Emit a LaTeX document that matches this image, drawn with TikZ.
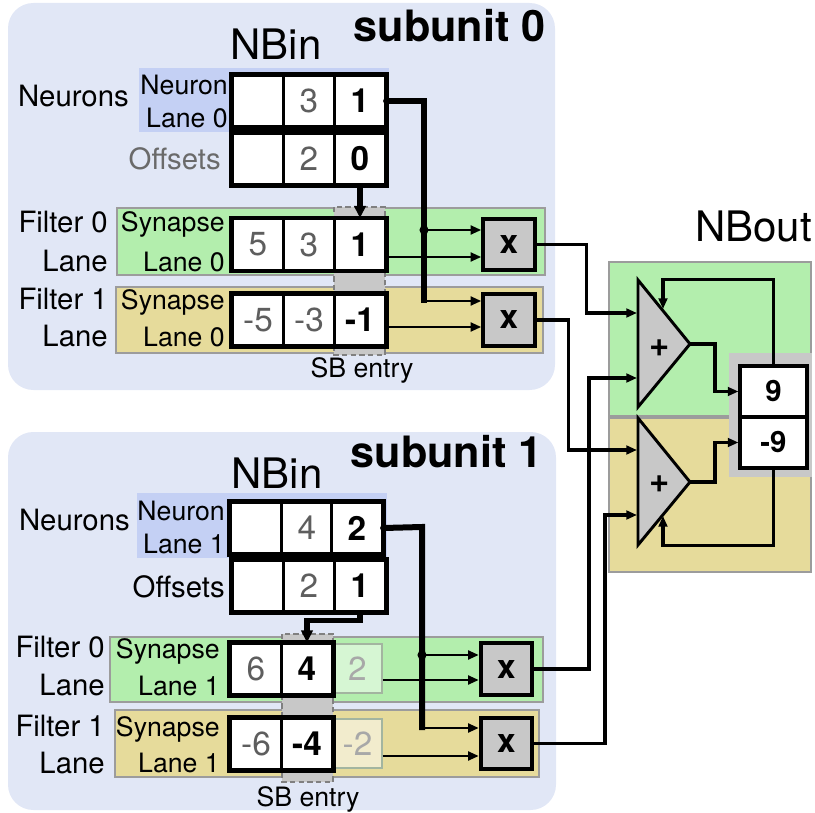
\documentclass[tikz,border=0pt]{standalone}
\usepackage{fontspec}
\setmainfont{TeX Gyre Heros}
\usetikzlibrary{arrows.meta,calc}

\definecolor{panelbg}{HTML}{E1E7F6}
\definecolor{lanebg}{HTML}{C4D0F4}
\definecolor{greenband}{HTML}{B3EEAD}
\definecolor{tanband}{HTML}{E6DB9B}
\definecolor{bandline}{HTML}{9C9C9C}
\definecolor{unitgray}{HTML}{C8C8C8}
\definecolor{sbline}{HTML}{808080}
\definecolor{numgray}{HTML}{5E5E5E}
\definecolor{labelgray}{HTML}{6A6A6A}
\definecolor{fadegreen}{HTML}{D6F6D3}
\definecolor{fadetan}{HTML}{F2ECCD}
\definecolor{fadeline}{HTML}{A3B5A0}
\definecolor{fadenum}{HTML}{A8A8A8}

\begin{document}
\begin{tikzpicture}[x=0.75pt,y=-0.75pt,
  lbl/.style={inner sep=0pt, anchor=base east, font=\fontsize{22pt}{24pt}\selectfont},
  sublbl/.style={inner sep=0pt, anchor=base east, font=\fontsize{20pt}{22pt}\selectfont},
  title/.style={inner sep=0pt, anchor=base, font=\fontsize{31.5pt}{34pt}\selectfont},
  unittitle/.style={inner sep=0pt, anchor=base east, font=\bfseries\fontsize{32.4pt}{34pt}\selectfont},
  cell/.style={draw, line width=1.6pt, fill=white, minimum width=38.25pt, minimum height=38.25pt, inner sep=0pt, font=\fontsize{25pt}{27pt}\selectfont},
  gcell/.style={cell, text=numgray},
  bcell/.style={cell, font=\bfseries\fontsize{25pt}{27pt}\selectfont},
  fcell/.style={cell, draw=fadeline, line width=1.5pt, minimum width=36pt, minimum height=36.5pt, text=fadenum},
  rowframe/.style={draw, line width=3pt},
  mul/.style={draw, line width=3pt, fill=unitgray, minimum width=38.5pt, minimum height=38.5pt, inner sep=0pt, font=\bfseries\fontsize{25pt}{27pt}\selectfont},
  tip/.style={-{Triangle[length=8pt,width=6.5pt]}},
  wire/.style={line width=2pt, tip},
  bus/.style={line width=4.5pt},
  outwire/.style={line width=2.6pt, tip},
  offwire/.style={line width=3.8pt, -{Triangle[length=9pt,width=8.5pt]}},
  band/.style={draw=bandline, line width=0.8pt},
  sbcol/.style={fill=unitgray, draw=sbline, dashed, line width=2.2pt, dash pattern=on 4pt off 2.5pt},
  adder/.style={fill=unitgray, draw, line width=2.2pt, line join=miter},
  regcell/.style={draw, line width=2.6pt, fill=white, minimum width=50pt, minimum height=38.25pt, inner sep=0pt, font=\bfseries\fontsize{22pt}{24pt}\selectfont},
  plus/.style={inner sep=0pt, font=\bfseries\fontsize{26pt}{28pt}\selectfont}
]
\useasboundingbox (0,0) rectangle (815,813);

% ---------- panels ----------
\fill[panelbg, rounded corners=19pt] (8,3) rectangle (555,390);
\fill[panelbg, rounded corners=19pt] (8,432) rectangle (556,810);

% ---------- NBout bands ----------
\filldraw[band, fill=greenband] (609,262) rectangle (811,416);
\filldraw[band, fill=tanband] (609,418) rectangle (811,572);
\node[title, anchor=base east] (nbout) at (812,242) {NBout};

% ================= subunit 0 =================
\node[unittitle] (unit0) at (546,42) {subunit 0};
\node[title] (nbin0) at (276,60) {NBin};

\fill[lanebg] (139,68) rectangle (389,132);
\filldraw[band, fill=greenband] (117,208) rectangle (545,275);
\filldraw[band, fill=tanband] (116,287) rectangle (543,353);
\filldraw[sbcol] (334,207) rectangle (385,355);

\node[lbl] (neur0) at (129,107) {Neurons};
\node[sublbl] (nl0a) at (228,95) {Neuron};
\node[sublbl] (nl0b) at (228,128) {Lane 0};
\node[lbl, text=labelgray] (offs0) at (221,170) {Offsets};
\node[lbl] (f00a) at (108,233) {Filter 0};
\node[lbl] (f00b) at (108,272) {Lane};
\node[lbl] (f01a) at (108,310) {Filter 1};
\node[lbl] (f01b) at (108,347) {Lane};
\node[sublbl] (sl00a) at (225,232) {Synapse};
\node[sublbl] (sl00b) at (225,272) {Lane 0};
\node[sublbl] (sl01a) at (225,310) {Synapse};
\node[sublbl] (sl01b) at (225,347) {Lane 0};
\node[sublbl, anchor=base] (sb0) at (362,378) {SB entry};

% neuron lane
\node[cell]  (n0a) at (258,101) {};
\node[gcell] (n0b) at (309,101) {3};
\node[bcell] (n0c) at (360,101) {1};
\draw[rowframe] (n0a.north west) rectangle (n0c.south east);
% offsets
\node[cell]  (o0a) at (258,159) {};
\node[gcell] (o0b) at (309,159) {2};
\node[bcell] (o0c) at (360,159) {0};
\draw[rowframe] (o0a.north west) rectangle (o0c.south east);
% synapse lanes
\node[gcell] (s00a) at (258,244.5) {5};
\node[gcell] (s00b) at (309,244.5) {3};
\node[bcell] (s00c) at (360,244.5) {1};
\draw[rowframe] (s00a.north west) rectangle (s00c.south east);
\node[gcell] (s01a) at (258,320) {-5};
\node[gcell] (s01b) at (309,320) {-3};
\node[bcell] (s01c) at (360,320) {-1};
\draw[rowframe] (s01a.north west) rectangle (s01c.south east);

% multipliers
\node[mul] (xb00) at (509,244.5) {x};
\node[mul] (xb01) at (509,320) {x};

% wiring
\draw[offwire] (o0c.south) -- (s00c.north);
\coordinate (bus0top) at (424,101);
\coordinate (bus0mid) at (424,230);
\coordinate (bus0bot) at (424,301);
\draw[bus] (n0c.east) -- (bus0top) -- ($(bus0bot)+(0,2)$);
\fill (n0c.east) circle (2.6pt);
\fill (bus0mid) circle (3.4pt);
\draw[wire] (bus0mid) -- (bus0mid -| xb00.west);
\draw[wire] (bus0bot) -- (bus0bot -| xb01.west);
\draw[wire] ($(s00c.east)+(0,12.5)$) -- ($(xb00.west)+(0,12.5)$);
\draw[wire] ($(s01c.east)+(0,7)$) -- ($(xb01.west)+(0,7)$);

% ================= subunit 1 =================
\node[unittitle] (unit1) at (543,467) {subunit 1};
\node[title] (nbin1) at (277,488) {NBin};

\fill[lanebg] (137,493) rectangle (387,558);
\filldraw[band, fill=greenband] (110,637) rectangle (543,702);
\filldraw[band, fill=tanband] (115,710) rectangle (539,777);
\filldraw[sbcol] (282,634) rectangle (333,782);

\node[lbl] (neur1) at (130,530) {Neurons};
\node[sublbl] (nl1a) at (225,520) {Neuron};
\node[sublbl] (nl1b) at (225,553) {Lane 1};
\node[lbl] (offs1) at (225,597) {Offsets};
\node[lbl] (f10a) at (105,657) {Filter 0};
\node[lbl] (f10b) at (105,695) {Lane};
\node[lbl] (f11a) at (105,736) {Filter 1};
\node[lbl] (f11b) at (105,773) {Lane};
\node[sublbl] (sl10a) at (220,658) {Synapse};
\node[sublbl] (sl10b) at (220,695) {Lane 1};
\node[sublbl] (sl11a) at (220,736) {Synapse};
\node[sublbl] (sl11b) at (220,772) {Lane 1};
\node[sublbl, anchor=base] (sb1) at (308,806) {SB entry};

% neuron lane
\node[cell]  (n1a) at (256,528) {};
\node[gcell] (n1b) at (307,528) {4};
\node[bcell] (n1c) at (357,528) {2};
\draw[rowframe] (n1a.north west) rectangle (n1c.south east);
% offsets
\node[cell]  (o1a) at (258,586) {};
\node[gcell] (o1b) at (309,586) {2};
\node[bcell] (o1c) at (360,586) {1};
\draw[rowframe] (o1a.north west) rectangle (o1c.south east);
% synapse lanes (last entry already consumed)
\node[gcell] (s10a) at (256,669) {6};
\node[bcell] (s10b) at (307,669) {4};
\node[fcell, fill=fadegreen] (s10c) at (357.5,668.5) {2};
\draw[rowframe] (s10a.north west) rectangle (s10b.south east);
\node[gcell] (s11a) at (256,744) {-6};
\node[bcell] (s11b) at (307,744) {-4};
\node[fcell, fill=fadetan] (s11c) at (357.5,743.5) {-2};
\draw[rowframe] (s11a.north west) rectangle (s11b.south east);

% multipliers
\node[mul] (xb10) at (506.5,669) {x};
\node[mul] (xb11) at (506.5,743.5) {x};

% wiring
\draw[offwire] (o1c.south) -- ++(0,8) -| (s10b.north);
\coordinate (bus1top) at (422,527);
\coordinate (bus1mid) at (422,655);
\coordinate (bus1bot) at (422,728);
\draw[bus] (n1c.east) -- (bus1top) -- ($(bus1bot)+(0,2)$);
\fill (n1c.east) circle (2.6pt);
\fill (bus1mid) circle (3.4pt);
\draw[wire] (bus1mid) -- (bus1mid -| xb10.west);
\draw[wire] (bus1bot) -- (bus1bot -| xb11.west);
\draw[wire] ($(s10c.east)+(0,11.5)$) -- ($(xb10.west)+(0,11)$);
\draw[wire] ($(s11c.east)+(0,12.5)$) -- ($(xb11.west)+(0,12.5)$);

% ================= NBout =================
\filldraw[adder] (638,280) -- (690,344) -- (638,407) -- cycle;
\filldraw[adder] (638,418) -- (690,482) -- (638,545) -- cycle;
\node[plus] (add0) at (660,348) {+};
\node[plus] (add1) at (660,484) {+};
\coordinate (a0in1) at (637,313);
\coordinate (a0in2) at (637,378);
\coordinate (a1in1) at (637,450);
\coordinate (a1in2) at (637,515);
\coordinate (a0out) at (690,344);
\coordinate (a1out) at (690,482);
\coordinate (a0fb) at (663,309);
\coordinate (a1fb) at (663,516);

\fill[unitgray] (729,353) rectangle (812,477);
\node[regcell] (reg9) at (773.5,391.5) {9};
\node[regcell] (regm9) at (773.5,442.5) {-9};

% products into the accumulators
\draw[outwire] (xb00.east) -- ++(50,0) |- (a0in1);
\draw[outwire] (xb01.east) -- ++(32,0) |- (a1in1);
\draw[outwire] (xb10.east) -- ++(55,0) |- (a0in2);
\draw[outwire] (xb11.east) -- ++(71,0) |- (a1in2);

% adder outputs and feedback
\draw[outwire] (a0out) -- ++(25,0) |- (reg9.west);
\draw[outwire] (a1out) -- ++(25,0) |- (regm9.west);
\draw[outwire] (reg9.north) -- ++(0,-85) -| (a0fb);
\draw[outwire] (regm9.south) -- ++(0,76) -| (a1fb);
\end{tikzpicture}
\end{document}
